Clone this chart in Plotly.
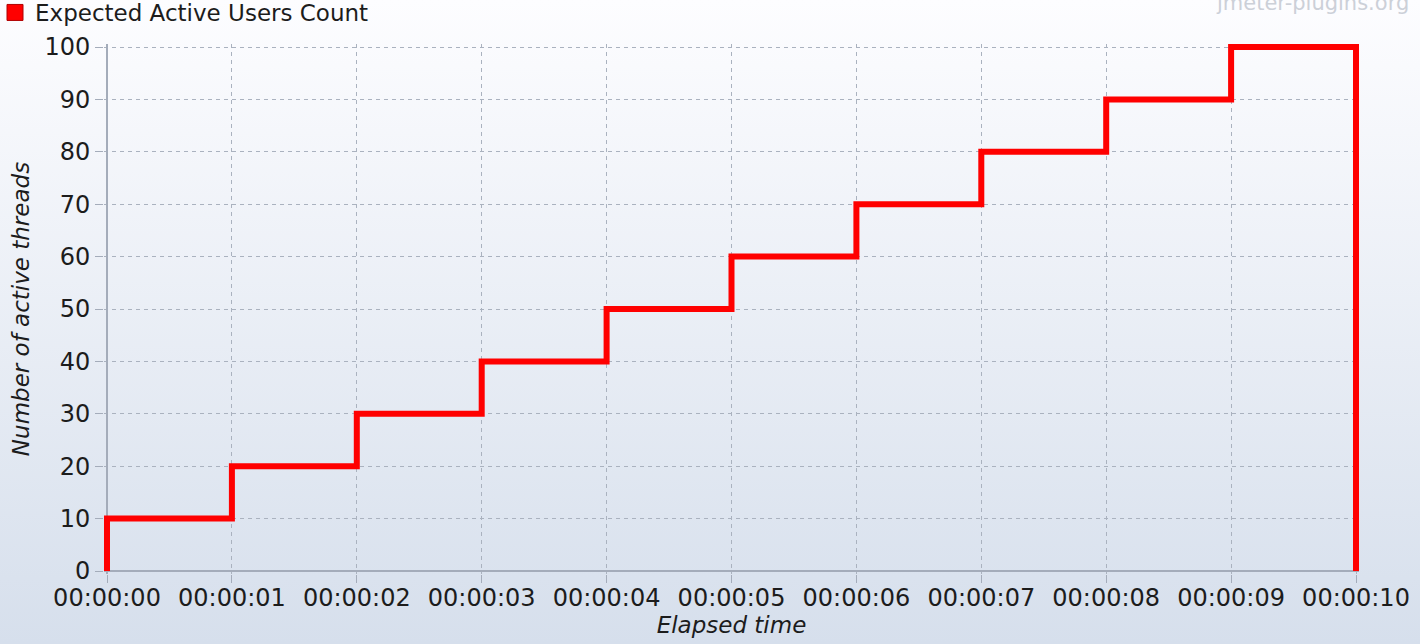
import base64
import plotly.graph_objects as go

# ---- data ----
elapsed_s = [0, 0, 1, 2, 3, 4, 5, 6, 7, 8, 9, 10, 10]
active_threads = [0, 10, 20, 30, 40, 50, 60, 70, 80, 90, 100, 100, 0]
tick_seconds = [0, 1, 2, 3, 4, 5, 6, 7, 8, 9, 10]
tick_labels = ["00:00:%02d" % s for s in tick_seconds]
y_ticks = [0, 10, 20, 30, 40, 50, 60, 70, 80, 90, 100]
series_name = "Expected Active Users Count"

W, H = 1420, 644
# target pixel positions of the axis range ends
X0_PX, X1_PX = 107, 1356
Y0_PX, Y1_PX = 571, 47
PAD = 3  # px of padding so the thick line is not clipped
L, R = X0_PX - PAD, W - X1_PX - PAD
T, B = Y1_PX - PAD, H - Y0_PX - PAD
pw, ph = W - L - R, H - T - B
xpad = PAD * 10 / (X1_PX - X0_PX)
ypad = PAD * 100 / (Y0_PX - Y1_PX)


def px_x(px):
    return (px - L) / pw


def px_y(py):
    return (H - B - py) / ph


FONT = "DejaVu Sans"
RED = "#ff0000"
GRID = "#aab2bf"
AXIS = "#a4acba"

svg = (
    '<svg xmlns="http://www.w3.org/2000/svg" width="100" height="100" preserveAspectRatio="none">'
    '<defs><linearGradient id="g" x1="0" y1="0" x2="0" y2="1">'
    '<stop offset="0" stop-color="#fdfdff"/><stop offset="1" stop-color="#d6dfec"/>'
    '</linearGradient></defs><rect width="100" height="100" fill="url(#g)"/></svg>'
)
bg_uri = "data:image/svg+xml;base64," + base64.b64encode(svg.encode()).decode()

fig = go.Figure()
fig.add_trace(go.Scatter(
    x=elapsed_s, y=active_threads, mode="lines", line_shape="hv",
    line=dict(color=RED, width=6), showlegend=False,
    hoverinfo="skip",
))
fig.add_trace(go.Scatter(
    x=[None], y=[None], mode="markers", name=series_name,
    marker=dict(symbol="square", size=20, color=RED, line=dict(color="#b00000", width=1)),
))

fig.update_layout(
    width=W, height=H,
    margin=dict(l=L, r=R, t=T, b=B, pad=0, autoexpand=False),
    paper_bgcolor="white", plot_bgcolor="rgba(0,0,0,0)",
    font=dict(family=FONT, size=24, color="#1c1c1c"),
    images=[dict(
        source=bg_uri, xref="paper", yref="paper",
        x=px_x(0), y=px_y(0), sizex=W / pw, sizey=H / ph,
        xanchor="left", yanchor="top", sizing="stretch", layer="below",
    )],
    legend=dict(
        x=px_x(-5), y=px_y(-9), xanchor="left", yanchor="top",
        bgcolor="rgba(0,0,0,0)", borderwidth=0,
        font=dict(family=FONT, size=23, color="#1c1c1c"),
        itemwidth=30,
    ),
    showlegend=True,
    annotations=[dict(
        text="jmeter-plugins.org", xref="paper", yref="paper",
        x=px_x(1411), y=px_y(17), xanchor="right", yanchor="bottom",
        showarrow=False, font=dict(family=FONT, size=21, color="#ccd0d8"),
    )],
)

fig.update_xaxes(
    range=[-xpad, 10 + xpad], tickmode="array", tickvals=tick_seconds, ticktext=tick_labels,
    showline=False, zeroline=True, zerolinecolor=AXIS, zerolinewidth=2,
    ticks="outside", ticklen=8, tickcolor=AXIS, tickwidth=1, ticklabelstandoff=-6,
    showgrid=True, gridcolor=GRID, gridwidth=1, griddash="4px,4px",
    tickfont=dict(size=24),
    title=dict(text="<i>Elapsed time</i>", font=dict(size=23), standoff=4),
)
fig.update_yaxes(
    range=[-ypad, 100 + ypad], tickmode="array", tickvals=y_ticks,
    showline=False, zeroline=True, zerolinecolor=AXIS, zerolinewidth=2,
    ticks="outside", ticklen=8, tickcolor=AXIS, tickwidth=1,
    showgrid=True, gridcolor=GRID, gridwidth=1, griddash="4px,4px",
    tickfont=dict(size=24),
    title=dict(text="<i>Number of active threads</i>", font=dict(size=23), standoff=8),
)

fig.write_html(
    "out.html",
    config={"displayModeBar": False},
    post_script="document.body.style.margin='0';document.body.style.overflow='hidden';",
)
